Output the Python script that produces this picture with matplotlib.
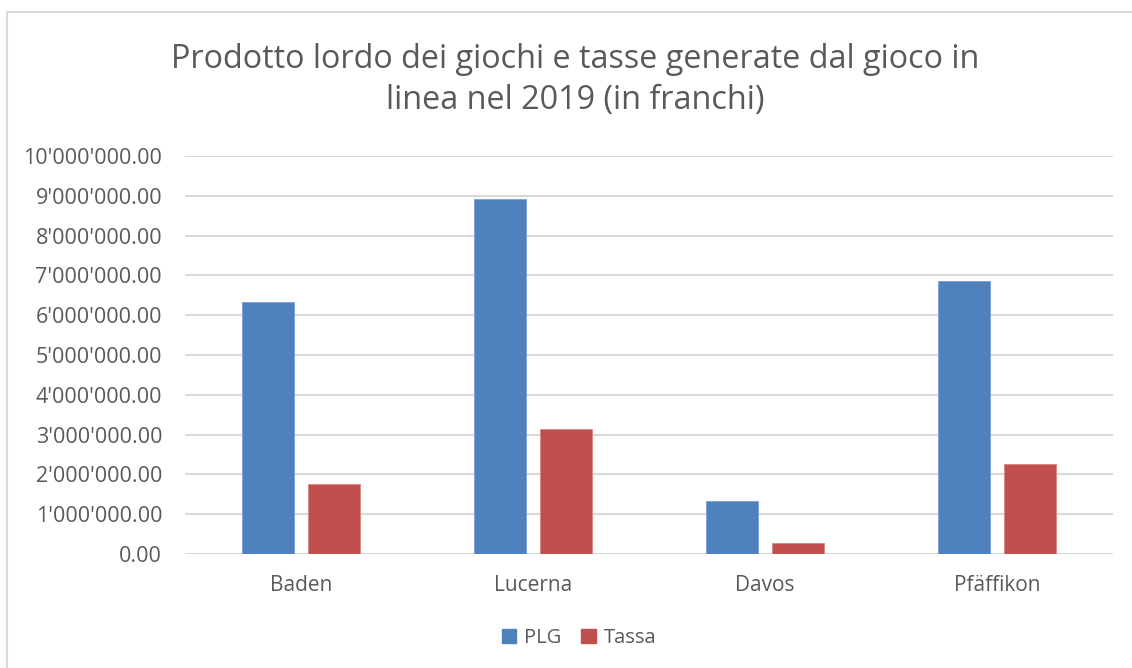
import numpy as np
import matplotlib
matplotlib.use('Agg')
import matplotlib.pyplot as plt
from matplotlib.ticker import FuncFormatter
from matplotlib.patches import Patch
from matplotlib.lines import Line2D

# data (franchi)
sedi = ['Baden', 'Lucerna', 'Davos', 'Pfäffikon']
plg = [6320000, 8910000, 1320000, 6850000]
tassa = [1760000, 3130000, 270000, 2260000]
serie = ['PLG', 'Tassa']
yticks = np.arange(0, 10000001, 1000000)

blu = '#4F81BD'
rosso = '#C0504D'
grigio = '#595959'

plt.rcParams['font.family'] = ['Open Sans', 'DejaVu Sans']


def fmt_chf(v, pos=None):
    s = f'{v:,.2f}'
    return s.replace(',', "'")


fig = plt.figure(figsize=(11.32, 6.68), dpi=100)
W, H = 1132, 668

# outer chart border (light grey, cut by image edges)
fig.add_artist(Line2D([7/W, 7/W], [0, 1-12/H], color='#d9d9d9', lw=1.5))
fig.add_artist(Line2D([7/W, 1], [1-12/H, 1-12/H], color='#d9d9d9', lw=1.5))

ax = fig.add_axes([185/W, 1-554/H, 928/W, 398/H])

x = np.arange(len(sedi))
w = 0.224
off = 0.142
ax.bar(x-off, plg, w, color=blu, edgecolor='#7a9fd0', lw=0.6, zorder=3)
ax.bar(x+off, tassa, w, color=rosso, edgecolor='#d58784', lw=0.6, zorder=3)

ax.set_xlim(-0.5, len(sedi)-0.5)
ax.set_ylim(0, 10000000)
ax.set_yticks(yticks)
ax.yaxis.set_major_formatter(FuncFormatter(fmt_chf))
ax.set_xticks(x)
ax.set_xticklabels(sedi)
ax.grid(axis='y', color='#d9d9d9', lw=1.5, zorder=0)
for sp in ax.spines.values():
    sp.set_visible(False)
ax.tick_params(axis='y', length=0, labelsize=15.5, labelcolor=grigio, pad=16.5)
ax.tick_params(axis='x', length=0, labelsize=15, labelcolor=grigio, pad=15)

fig.text(575/W, 1-80/H, 'Prodotto lordo dei giochi e tasse generate dal gioco in\nlinea nel 2019 (in franchi)',
         ha='center', va='center', fontsize=23.3, color=grigio, linespacing=1.32)

handles = [Patch(color=blu), Patch(color=rosso)]
fig.legend(handles, serie, loc='center', bbox_to_anchor=(579/W, 1-638/H), ncol=2, frameon=False,
           fontsize=14.5, labelcolor=grigio, handlelength=0.7, handleheight=0.7, handletextpad=0.4,
           columnspacing=1.0)

fig.savefig('out.png', dpi=100, facecolor='white')
